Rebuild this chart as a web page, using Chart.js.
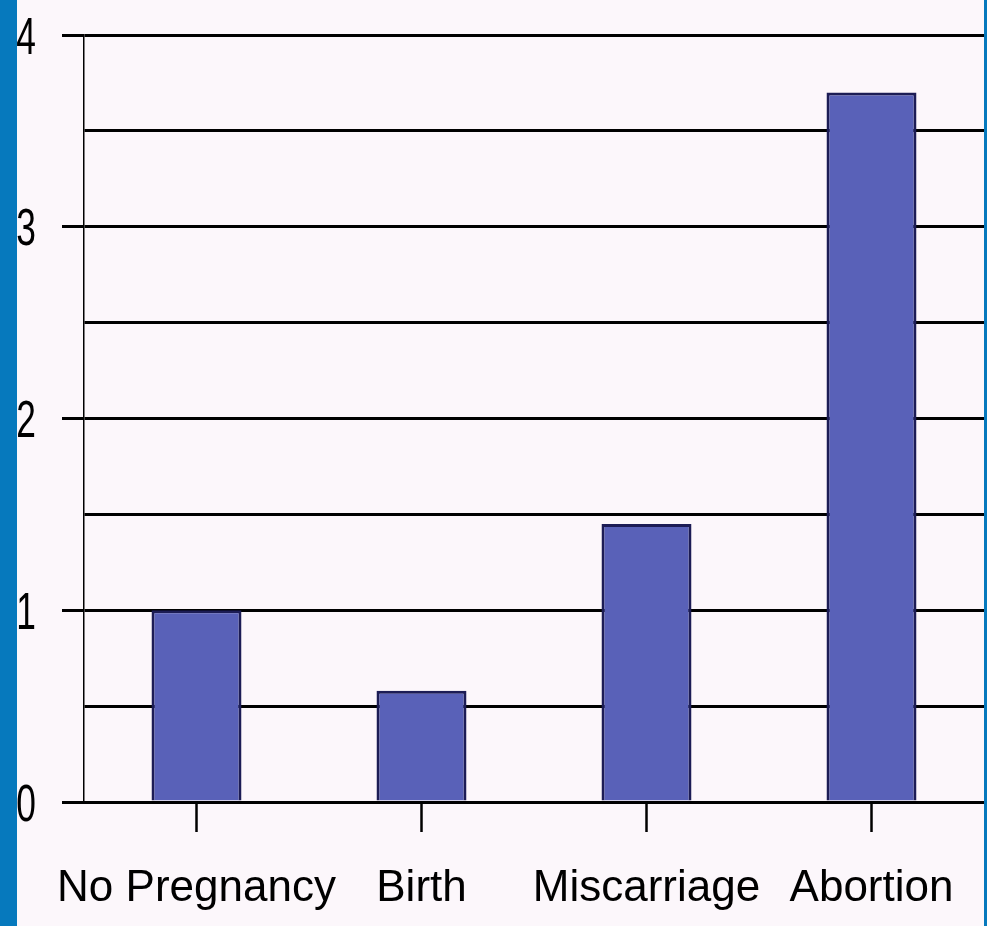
<!DOCTYPE html>
<html>
<head>
<meta charset="utf-8">
<script src="https://cdn.jsdelivr.net/npm/chart.js@4"></script>
<style>
  html, body { margin: 0; padding: 0; }
  body { width: 987px; height: 926px; background: #0679bd; position: relative; overflow: hidden; }
  #wrap { position: absolute; left: 17px; top: 0; width: 967px; height: 926px; background: #fcf7fb; }
</style>
</head>
<body>
<div id="wrap"><canvas id="outcomeChart"></canvas></div>
<script>
// chart data
const categories = ['No Pregnancy', 'Birth', 'Miscarriage', 'Abortion'];
const counts = [1.0, 0.58, 1.45, 3.70];
const yMin = 0;
const yMax = 4;
const yStep = 0.5;

const isWhole = v => Math.abs(v - Math.round(v)) < 1e-6;

// the y labels in the original are tall and narrow, so draw them squeezed
const narrowYLabels = {
    id: 'narrowYLabels',
    afterDraw(chart) {
        const y = chart.scales.y;
        const c = chart.ctx;
        const size = 52, squeeze = 0.68;
        c.save();
        c.fillStyle = '#000';
        c.font = size + 'px "Liberation Sans", Arial, sans-serif';
        c.textAlign = 'right';
        c.textBaseline = 'alphabetic';
        c.scale(squeeze, 1);
        y.ticks.forEach(t => {
            if (!isWhole(t.value)) return;
            const py = y.getPixelForValue(t.value);
            c.fillText(String(t.value), 19 / squeeze, py + size * 0.716 / 2);
        });
        c.restore();
    }
};

const ctx = document.getElementById('outcomeChart').getContext('2d');
new Chart(ctx, {
    type: 'bar',
    data: {
        labels: categories,
        datasets: [{
            data: counts,
            backgroundColor: '#5961b8',
            borderColor: '#1c1c55',
            borderWidth: 3,
            categoryPercentage: 1,
            barPercentage: 0.4
        }]
    },
    options: {
        responsive: true,
        maintainAspectRatio: false,
        animation: false,
        layout: { padding: { top: 35, right: 0, left: 0, bottom: 0 } },
        plugins: { legend: { display: false }, tooltip: { enabled: false } },
        scales: {
            x: {
                grid: {
                    offset: false,
                    drawOnChartArea: false,
                    drawTicks: true,
                    tickLength: 30,
                    tickColor: '#000',
                    tickWidth: 2.5
                },
                border: { display: true, color: '#000', width: 3 },
                ticks: {
                    color: '#000',
                    padding: 30,
                    maxRotation: 0,
                    autoSkip: false,
                    font: { family: 'Liberation Sans, Arial, sans-serif', size: 44 }
                },
                afterFit: scale => { scale.height = 124; }
            },
            y: {
                min: yMin,
                max: yMax,
                grid: {
                    color: '#000',
                    lineWidth: 3,
                    tickLength: 22,
                    tickColor: c => isWhole(c.tick.value) ? '#000' : 'rgba(0,0,0,0)',
                    tickWidth: 3
                },
                border: { display: true, color: '#000', width: 1.5 },
                ticks: {
                    stepSize: yStep,
                    display: false
                },
                afterFit: scale => { scale.width = 67; }
            }
        }
    },
    plugins: [narrowYLabels]
});
</script>
</body>
</html>
